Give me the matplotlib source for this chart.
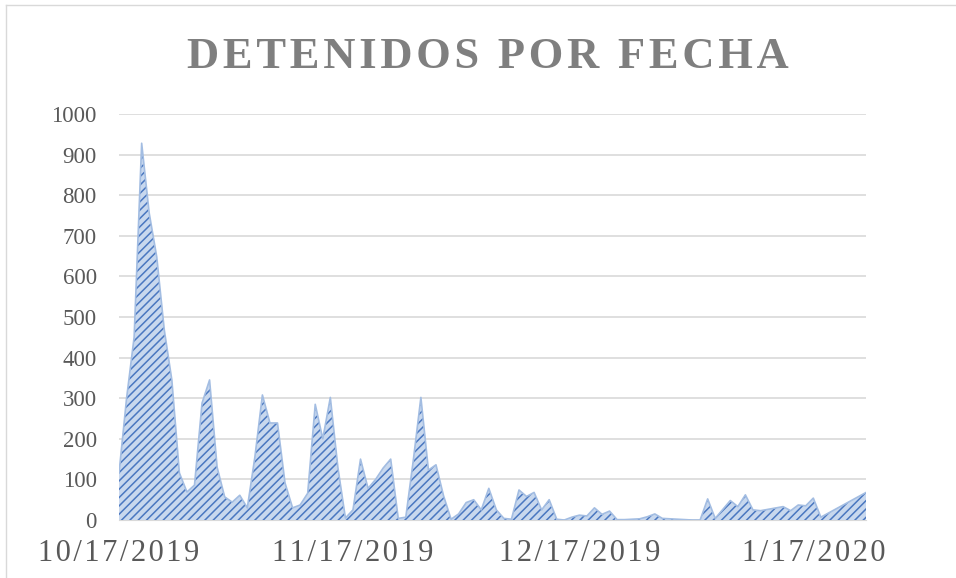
import matplotlib
matplotlib.use("Agg")
import matplotlib.pyplot as plt
import pandas as pd
from matplotlib.lines import Line2D

# daily counts (dates missing from the source are skipped)
dates = [
    "2019-10-17", "2019-10-18", "2019-10-19", "2019-10-20", "2019-10-21", "2019-10-22",
    "2019-10-23", "2019-10-24", "2019-10-25", "2019-10-26", "2019-10-27", "2019-10-28",
    "2019-10-29", "2019-10-30", "2019-10-31", "2019-11-01", "2019-11-02", "2019-11-03",
    "2019-11-04", "2019-11-05", "2019-11-06", "2019-11-07", "2019-11-08", "2019-11-09",
    "2019-11-10", "2019-11-11", "2019-11-12", "2019-11-13", "2019-11-14", "2019-11-15",
    "2019-11-16", "2019-11-17", "2019-11-18", "2019-11-19", "2019-11-20", "2019-11-21",
    "2019-11-22", "2019-11-23", "2019-11-24", "2019-11-25", "2019-11-26", "2019-11-27",
    "2019-11-28", "2019-11-29", "2019-11-30", "2019-12-01", "2019-12-02", "2019-12-03",
    "2019-12-04", "2019-12-05", "2019-12-06", "2019-12-07", "2019-12-08", "2019-12-09",
    "2019-12-10", "2019-12-11", "2019-12-12", "2019-12-13", "2019-12-14", "2019-12-15",
    "2019-12-16", "2019-12-17", "2019-12-18", "2019-12-19", "2019-12-20", "2019-12-21",
    "2019-12-22", "2019-12-23", "2019-12-24", "2019-12-25", "2019-12-26", "2019-12-27",
    "2019-12-28", "2019-12-29", "2019-12-30", "2019-12-31", "2020-01-01", "2020-01-02",
    "2020-01-03", "2020-01-04", "2020-01-05", "2020-01-06", "2020-01-07", "2020-01-08",
    "2020-01-09", "2020-01-10", "2020-01-13", "2020-01-14", "2020-01-15", "2020-01-16",
    "2020-01-17", "2020-01-18", "2020-01-24",
]
detenidos = [
    116, 300, 450, 928, 756, 648,
    468, 345, 116, 69, 86, 288,
    345, 130, 57, 44, 61, 30,
    155, 308, 239, 239, 91, 30,
    37, 66, 285, 200, 302, 130,
    5, 25, 150, 78, 100, 128,
    150, 4, 7, 148, 302, 123,
    136, 60, 2, 15, 43, 50,
    25, 78, 25, 4, 2, 74,
    58, 68, 25, 50, 2, 0,
    7, 12, 10, 30, 14, 22,
    1, 1, 2, 3, 8, 15,
    4, 3, 2, 1, 0, 0,
    52, 4, 26, 48, 33, 62,
    25, 23, 33, 23, 37, 35,
    54, 7, 68,
]
tick_dates = ["2019-10-17", "2019-11-17", "2019-12-17", "2020-01-17"]
tick_labels = ["10/17/2019", "11/17/2019", "12/17/2019", "1/17/2020"]

x = pd.to_datetime(dates)
y = detenidos

serif = ["Liberation Serif", "DejaVu Serif"]
plt.rcParams["font.family"] = serif
plt.rcParams["hatch.linewidth"] = 1.1

fig = plt.figure(figsize=(9.56, 5.78), dpi=100)
ax = fig.add_axes([0.1245, 0.1003, 0.7815, 0.7025])

ax.fill_between(x, y, 0, facecolor="#c8d8ee", edgecolor="#4a77c0",
                hatch="////", linewidth=0, zorder=3)
ax.plot(x, y, color="#a3bde2", lw=1.2, zorder=4)

ax.set_ylim(0, 1000)
ax.set_xlim(x[0], x[-1])
ax.set_yticks(range(0, 1001, 100))
ax.set_xticks(pd.to_datetime(tick_dates))
ax.set_xticklabels(["\u200a".join(t) for t in tick_labels])
ax.grid(axis="y", color="#d9d9d9", lw=1.2, zorder=0)
for s in ["top", "right", "left"]:
    ax.spines[s].set_visible(False)
ax.spines["bottom"].set_color("#d9d9d9")
ax.tick_params(axis="y", length=0, pad=16, labelsize=16.5, labelcolor="#595959")
ax.tick_params(axis="x", length=0, pad=14, labelsize=22, labelcolor="#595959")

title = "\u200a".join("DETENIDOS POR FECHA")
fig.text(0.51, 0.902, title, ha="center", va="center", fontsize=32,
         fontweight="bold", color="#7f7f7f", family=serif)

# chart frame
fig.add_artist(Line2D([6 / 956, 6 / 956], [0, 1 - 5 / 578], color="#d9d9d9", lw=1))
fig.add_artist(Line2D([6 / 956, 1], [1 - 5 / 578, 1 - 5 / 578], color="#d9d9d9", lw=1))

fig.savefig("out.png", dpi=100)
